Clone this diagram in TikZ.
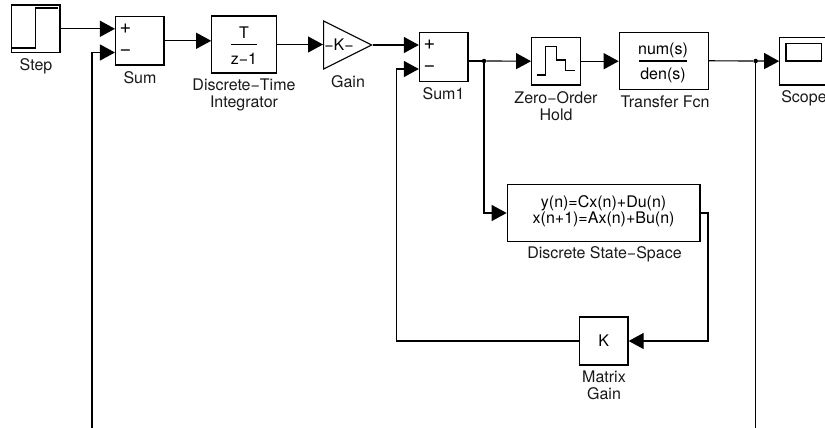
\documentclass[tikz,border=0pt]{standalone}
\usepackage{fontspec}
\setmainfont{TeX Gyre Heros}
\usetikzlibrary{arrows.meta,shapes.geometric,calc}
\tikzset{
  x=1pt,y=-1pt,
  every node/.style={font=\fontsize{16}{17}\selectfont,inner sep=0pt,align=center},
  block/.style={draw=black,line width=1.2pt,fill=white},
  lbl/.style={text=black!90},
  sign/.style={font=\fontsize{20}{20}\selectfont},
  wire/.style={line width=1.15pt,black,-{Triangle[length=15pt,width=16pt]},shorten >=0pt},
  plainwire/.style={line width=1.15pt,black},
  icon/.style={line width=1.1pt,black},
  dot/.style={circle,fill=black,minimum size=4.5pt},
}
\begin{document}
\begin{tikzpicture}
\path[use as bounding box] (0,0) rectangle (825,428);
\clip (0,0) rectangle (825,428);
% blocks
\node[block,minimum width=48.5pt,minimum height=47.5pt] (step) at (35.8,28.8) {};
\node[block,minimum width=48.5pt,minimum height=48.5pt] (sum) at (139.8,40.8) {};
\node[block,minimum width=64.5pt,minimum height=57pt] (dti) at (244,44.5) {};
\node[block,isosceles triangle,isosceles triangle stretches,minimum width=48pt,minimum height=48pt,shape border rotate=0,anchor=lower side] (gain) at (323,45) {};
\node[block,minimum width=48.5pt,minimum height=49.5pt] (sumb) at (443.7,57) {};
\node[block,minimum width=48.5pt,minimum height=47.7pt] (zoh) at (555.9,61.2) {};
\node[block,minimum width=89pt,minimum height=57pt] (tf) at (663.8,60.8) {};
\node[block,minimum width=48.5pt,minimum height=47.7pt] (scope) at (804,61.2) {};
\node[block,minimum width=192.7pt,minimum height=57.4pt] (dss) at (603.6,213) {};
\node[block,minimum width=48.7pt,minimum height=48pt] (mg) at (603.7,341) {K};
% block text
\node[sign] (sumplus) at (125.5,29) {+};
\node[sign] (summinus) at (125.5,52.5) {−};
\node[sign] (sumbplus) at (429.5,45) {+};
\node[sign] (sumbminus) at (429.5,69) {−};
\node (dtinum) at (244,33) {T};
\node (dtiden) at (244,59) {z−1};
\node (gaink) at (339,44.5) {−K−};
\node (tfnum) at (663,50) {num(s)};
\node (tfden) at (663,75) {den(s)};
\node[font=\fontsize{16}{14.5}\selectfont] (dsstext) at (603.6,211.5) {y(n)=Cx(n)+Du(n)\\x(n+1)=Ax(n)+Bu(n)};
% icons
\draw[icon] (12,48) -- (35.7,48) -- (35.7,8) -- (58,8);
\draw[icon] (231,44.8) -- (256.7,44.8);
\draw[icon] (639,61) -- (687,61);
\draw[icon] (536.7,75) -- (545.7,75) -- (545.7,46.7) -- (556.5,46.7) -- (556.5,60) -- (565.7,60) -- (565.7,70.3) -- (575,70.3);
\draw[icon] (786,43.5) rectangle (821.7,61);
% captions
\node[lbl] (lstep) at (36,66) {Step};
\node[lbl] (lsum) at (140,78) {Sum};
\node[lbl] (ldti) at (244,95) {Discrete−Time\\Integrator};
\node[lbl] (lgain) at (348,82) {Gain};
\node[lbl] (lsumb) at (443.5,94) {Sum1};
\node[lbl] (lzoh) at (556,106.5) {Zero−Order\\Hold};
\node[lbl] (ltf) at (665,102) {Transfer Fcn};
\node[lbl] (lscope) at (804,98) {Scope};
\node[lbl] (ldss) at (604.5,254) {Discrete State−Space};
\node[lbl] (lmg) at (604,385) {Matrix\\Gain};
% junctions and free ends
\coordinate (branchA) at (484,61);
\coordinate (branchB) at (755.7,61);
\coordinate (endA) at (92,428);
\coordinate (endB) at (755.7,428);
\coordinate (fbx) at (708,341);
\coordinate (fby) at (396.5,341);
\node[dot] (ja) at (branchA) {};
\node[dot] (jb) at (branchB) {};
% connectors
\draw[wire] (step.east) -- (sum.west |- step.east);
\draw[wire] (endA) -- (92,52.5) -- (sum.west |- 0,52.5);
\draw[wire] (sum.east) -- (dti.west |- sum.east);
\draw[wire] (dti.east) -- (gain.lower side |- dti.east);
\draw[wire] (gain.apex) -- (sumb.west |- gain.apex);
\draw[wire] (mg.west) -- (fby) -- (396.5,69) -- (sumb.west |- 0,69);
\draw[plainwire] (sumb.east |- ja) -- (ja);
\draw[wire] (ja) -- (zoh.west);
\draw[wire] (zoh.east) -- (tf.west |- zoh.east);
\draw[plainwire] (tf.east) -- (jb);
\draw[wire] (jb) -- (scope.west);
\draw[plainwire] (jb) -- (endB);
\draw[wire] (ja) -- (484,213) -- (dss.west);
\draw[wire] (dss.east) -- (708,213) -- (fbx) -- (mg.east);
\end{tikzpicture}
\end{document}
